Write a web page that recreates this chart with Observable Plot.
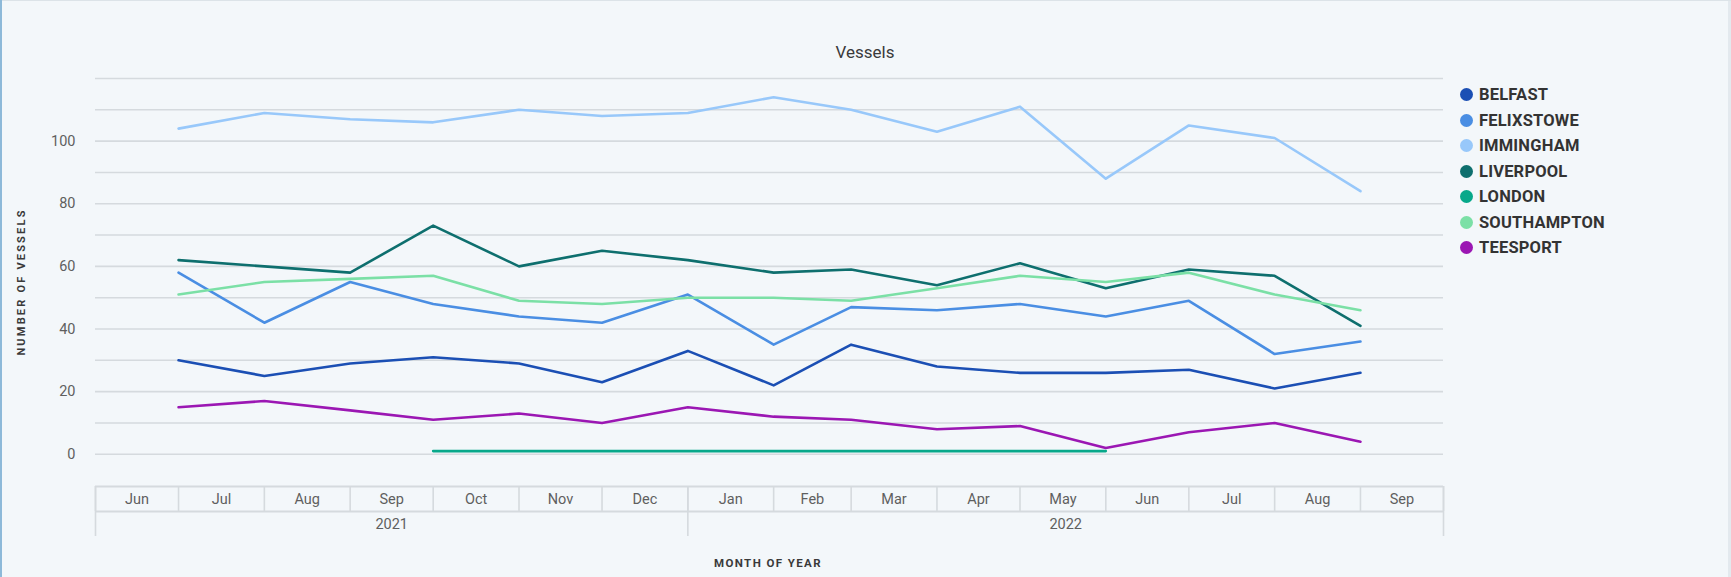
<!DOCTYPE html>
<html>
<head>
<meta charset="utf-8">
<script src="https://cdn.jsdelivr.net/npm/d3@7"></script>
<script src="https://cdn.jsdelivr.net/npm/@observablehq/plot@0.6"></script>
<style>
  html, body { margin: 0; padding: 0; background: #F3F7FA; }
  #wrap { position: relative; width: 1731px; height: 577px; overflow: hidden; background: #F3F7FA;
          font-family: Roboto, "Noto Sans", sans-serif;
          box-shadow: inset 2px 0 0 #8DB9D9, inset 0 1px 0 #DCE3E8, inset -3px 0 0 #E3E9EE; }
  #chart { position: absolute; left: 0; top: 0; }
  .title { position: absolute; left: 865px; top: 52px; transform: translate(-50%, -50%);
           font-size: 17px; color: #3A3A3A; white-space: nowrap; }
  .ytitle { position: absolute; left: 21px; top: 282px; transform: translate(-50%, -50%) rotate(-90deg);
            font-size: 11px; font-weight: 700; letter-spacing: 2.2px; color: #3A3A3A; white-space: nowrap; }
  .xtitle { position: absolute; left: 768px; top: 563px; transform: translate(-50%, -50%);
            font-size: 11.5px; font-weight: 700; letter-spacing: 1.4px; color: #3A3A3A; white-space: nowrap; }
  .legend { position: absolute; left: 1460px; top: 82px; }
  .legend .row { display: flex; align-items: center; height: 25.5px; }
  .legend .dot { width: 13px; height: 13px; border-radius: 50%; margin-right: 6px; }
  .legend .lab { font-size: 16.5px; font-weight: 700; color: #333; letter-spacing: 0.2px; }
</style>
</head>
<body>
<div id="wrap">
  <div id="chart"></div>
  <div class="title">Vessels</div>
  <div class="ytitle">NUMBER OF VESSELS</div>
  <div class="xtitle">MONTH OF YEAR</div>
  <div class="legend" id="legend"></div>
</div>
<script>
// ---- data ----
const months = ["2021-07","2021-08","2021-09","2021-10","2021-11","2021-12",
                "2022-01","2022-02","2022-03","2022-04","2022-05","2022-06",
                "2022-07","2022-08","2022-09"];
const ports = ["BELFAST","FELIXSTOWE","IMMINGHAM","LIVERPOOL","LONDON","SOUTHAMPTON","TEESPORT"];
const colors = ["#1B4FB4","#4A8EE3","#98C8FA","#0E6F6E","#07A88A","#7BE0A6","#9B17B3"];
const belfast     = [30,25,29,31,29,23,33,22,35,28,26,26,27,21,26];
const felixstowe  = [58,42,55,48,44,42,51,35,47,46,48,44,49,32,36];
const immingham   = [104,109,107,106,110,108,109,114,110,103,111,88,105,101,84];
const liverpool   = [62,60,58,73,60,65,62,58,59,54,61,53,59,57,41];
const london      = [null,null,null,1,1,1,1,1,1,1,1,1,null,null,null];
const southampton = [51,55,56,57,49,48,50,50,49,53,57,55,58,51,46];
const teesport    = [15,17,14,11,13,10,15,12,11,8,9,2,7,10,4];
const yTicks = [0,20,40,60,80,100];
const axisMonths = ["2021-06","2021-07","2021-08","2021-09","2021-10","2021-11","2021-12",
                    "2022-01","2022-02","2022-03","2022-04","2022-05","2022-06","2022-07",
                    "2022-08","2022-09"];
const years = ["2021","2022"];

// ---- build table ----
const series = [belfast, felixstowe, immingham, liverpool, london, southampton, teesport];
const parse = d3.utcParse("%Y-%m");
const rows = [];
series.forEach((vals, i) => {
  vals.forEach((v, j) => {
    if (v != null) rows.push({port: ports[i], date: parse(months[j]), value: v});
  });
});
const monthStarts = axisMonths.map(parse);
const domainEnd = d3.utcMonth.offset(monthStarts[monthStarts.length - 1], 1);
const boundaries = [...monthStarts, domainEnd];
const monthMids = monthStarts.map(d => new Date((+d + +d3.utcMonth.offset(d, 1)) / 2));
const yearStarts = years.map(y => d3.utcParse("%Y")(y));
const yearEdges = [monthStarts[0], yearStarts[1], domainEnd];
const yearMids = [new Date((+yearEdges[0] + +yearEdges[1]) / 2), new Date((+yearEdges[1] + +yearEdges[2]) / 2)];
const yMin = -10.3, yMax = 120;

const gridC = "#D5DADE";
const tickC = "#5F5F5F";

const chart = Plot.plot({
  width: 1731,
  height: 577,
  marginLeft: 95,
  marginRight: 288,
  marginTop: 78,
  marginBottom: 91,
  style: {background: "transparent", fontFamily: "Roboto, 'Noto Sans', sans-serif", overflow: "visible"},
  x: {type: "utc", domain: [monthStarts[0], domainEnd], axis: null},
  y: {domain: [yMin, yMax], axis: null},
  color: {domain: ports, range: colors},
  marks: [
    Plot.gridY(d3.range(0, 121, 10), {stroke: gridC, strokeOpacity: 1, strokeWidth: 1.6}),
    Plot.axisY(yTicks, {tickSize: 0, tickPadding: 20, fontSize: 14.5, fill: tickC, label: null}),
    // axis table
    Plot.ruleY([yMin], {stroke: gridC, strokeWidth: 2.2}),
    Plot.ruleY([yMin], {stroke: gridC, strokeWidth: 2, dy: 25}),
    Plot.axisX(boundaries, {tickSize: 25, stroke: gridC, strokeOpacity: 1, strokeWidth: 1.6, tickFormat: () => "", label: null}),
    Plot.axisX(yearEdges, {tickSize: 50, stroke: gridC, strokeOpacity: 1, strokeWidth: 1.6, tickFormat: () => "", label: null}),
    Plot.axisX(monthMids, {tickSize: 0, tickPadding: 7, tickFormat: d3.utcFormat("%b"), fontSize: 14.5, fill: tickC, label: null}),
    Plot.axisX(yearMids, {tickSize: 0, tickPadding: 32, tickFormat: d3.utcFormat("%Y"), fontSize: 14.5, fill: tickC, label: null}),
    // series
    Plot.line(rows, {x: "date", y: "value", z: "port", stroke: "port", strokeWidth: 2.6, curve: "linear"})
  ]
});
document.getElementById("chart").appendChild(chart);

// legend
const lg = document.getElementById("legend");
ports.forEach((p, i) => {
  const r = document.createElement("div");
  r.className = "row";
  r.innerHTML = `<span class="dot" style="background:${colors[i]}"></span><span class="lab">${p}</span>`;
  lg.appendChild(r);
});
</script>
</body>
</html>
